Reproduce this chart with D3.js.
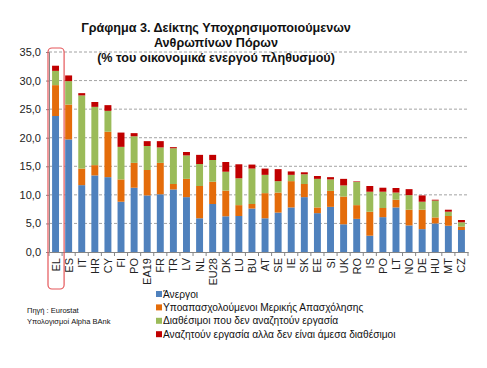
<!DOCTYPE html>
<html><head><meta charset="utf-8">
<script src="https://cdn.jsdelivr.net/npm/d3@7"></script>
<style>body{margin:0;background:#fff}svg{display:block;font-family:"Liberation Sans",Arial,sans-serif}</style>
</head><body><svg id="c" width="487" height="368"></svg>
<script>
const categories = ["EL","ES","IT","HR","CY","FI","PO","EA19","FR","TR","LV","NL","EU28","DK","LU","BU","AT","SE","IE","SK","EE","SI","UK","RO","IS","PO","LT","NO","DE","HU","MT","CZ"];
const unemployed   = [23.8,19.7,11.7,13.4,13.1,8.8,11.25,9.9,10.1,10.95,9.6,5.9,8.4,6.25,6.3,7.6,5.9,6.9,7.8,9.6,6.8,7.9,4.85,5.8,2.85,6.1,7.8,4.65,4.0,5.0,4.6,3.85];
const underemployed= [5.4,6.1,2.9,1.8,7.95,3.9,4.35,4.45,5.5,0.95,3.2,5.65,3.9,4.5,1.9,0.8,4.4,3.5,4.6,2.3,1.0,2.8,4.85,2.4,4.2,1.6,1.35,2.75,3.4,1.05,1.7,0.6];
const availableNotSeeking = [2.5,4.1,12.8,10.2,3.65,5.7,4.65,4.2,2.7,6.25,4.1,3.85,3.8,3.3,4.7,6.2,3.2,2.0,1.1,1.7,5.0,2.0,1.95,4.05,3.5,2.85,1.25,2.55,1.4,2.95,0.75,0.75];
const seekingNotAvailable = [0.9,1.0,0.4,0.85,1.0,2.5,0.55,0.85,1.1,0.2,0.6,1.6,0.9,1.7,2.45,0.7,1.1,2.1,0.6,0.35,0.5,0.4,1.15,0.1,1.0,0.7,0.8,1.05,1.1,0.15,0.35,0.4];
const seriesNames = ["Άνεργοι","Υποαπασχολούμενοι Μερικής Απασχόλησης","Διαθέσιμοι που δεν αναζητούν εργασία","Αναζητούν εργασία αλλα δεν είναι άμεσα διαθέσιμοι"];
const colors = ["#4F81BD","#E46C0A","#9BBB59","#C00000"];
const yTicks = [0,5,10,15,20,25,30,35];
const titleLines = ["Γράφημα 3. Δείκτης Υποχρησιμοποιούμενων","Ανθρωπίνων Πόρων","(% του οικονομικά ενεργού πληθυσμού)"];
const sourceLines = ["Πηγή : Eurostat","Υπολογισμοί Alpha BAnk"];

(function(){
const svg = d3.select("#c");
const pL=49,pR=468,pT=52,pB=252;
const idx = categories.map((d,i)=>i);
const x = d3.scaleBand().domain(idx).range([pL,pR]).paddingInner(0.47).paddingOuter(0.235);
const xb = d3.scaleBand().domain(idx).range([pL,pR]);
const y = d3.scaleLinear().domain([0,35]).range([pB,pT]);

// grid
svg.append("g").selectAll("line").data(yTicks.filter(t=>t>0)).join("line")
  .attr("x1",pL).attr("x2",pR).attr("y1",d=>y(d)).attr("y2",d=>y(d))
  .attr("stroke","#8c8c8c").attr("stroke-width",0.8).attr("stroke-dasharray","3,2");

const rows = categories.map((c,i)=>({i, v:[unemployed[i],underemployed[i],availableNotSeeking[i],seekingNotAvailable[i]]}));
const stack = d3.stack().keys([0,1,2,3]).value((d,k)=>d.v[k]);
const layers = stack(rows);
svg.append("g").selectAll("g").data(layers).join("g").attr("fill",(d,k)=>colors[k])
  .selectAll("rect").data(d=>d).join("rect")
  .attr("x",d=>x(d.data.i)).attr("width",x.bandwidth())
  .attr("y",d=>y(d[1])).attr("height",d=>Math.max(0,y(d[0])-y(d[1])));

// y axis
const ya = svg.append("g").attr("transform",`translate(${pL},0)`)
  .call(d3.axisLeft(y).tickValues(yTicks).tickSize(3).tickFormat(d=>d3.format(".1f")(d).replace(".",",")));
ya.select(".domain").attr("stroke","#868686");
ya.selectAll(".tick line").attr("stroke","#868686");
ya.selectAll("text").attr("font-size",11).attr("fill","#222").attr("x",-8).attr("font-family","Liberation Sans, Arial");

// x axis
const xa = svg.append("g").attr("transform",`translate(0,${pB})`)
  .call(d3.axisBottom(xb).tickSize(0).tickFormat(i=>categories[i]));
xa.select(".domain").attr("stroke","#868686");
xa.selectAll("text").attr("font-size",11).attr("fill","#222").attr("font-family","Liberation Sans, Arial")
  .attr("transform","rotate(-90)").attr("text-anchor","end").attr("dominant-baseline","central")
  .attr("x",-6).attr("y",0).attr("dy",null);
svg.append("g").selectAll("line").data(d3.range(categories.length+1)).join("line")
  .attr("x1",d=>pL+d*xb.step()).attr("x2",d=>pL+d*xb.step()).attr("y1",pB).attr("y2",pB+4)
  .attr("stroke","#868686");

// highlight box around EL
svg.append("rect").attr("x",xb(0)-1).attr("y",48).attr("width",xb.step()+3).attr("height",241)
  .attr("rx",4).attr("fill","none").attr("stroke","#E5575A").attr("stroke-width",1.2);

// title
svg.append("g").selectAll("text").data(titleLines).join("text")
  .attr("x",216).attr("y",(d,i)=>32+i*15).attr("text-anchor","middle")
  .attr("font-size",12.6).attr("font-weight","bold").attr("fill","#111").text(d=>d);

// legend
const lg = svg.append("g").selectAll("g").data(seriesNames).join("g")
  .attr("transform",(d,i)=>`translate(156,${294+i*13.4})`);
lg.append("rect").attr("x",0).attr("y",-3).attr("width",6).attr("height",6).attr("fill",(d,i)=>colors[i]);
lg.append("text").attr("x",7).attr("y",0).attr("dominant-baseline","central")
  .attr("font-size",10.2).attr("fill","#111").text(d=>d);

// source
svg.append("g").selectAll("text").data(sourceLines).join("text")
  .attr("x",27).attr("y",(d,i)=>313+i*11).attr("font-size",7.5).attr("fill","#111").text(d=>d);
})();
</script></body></html>
